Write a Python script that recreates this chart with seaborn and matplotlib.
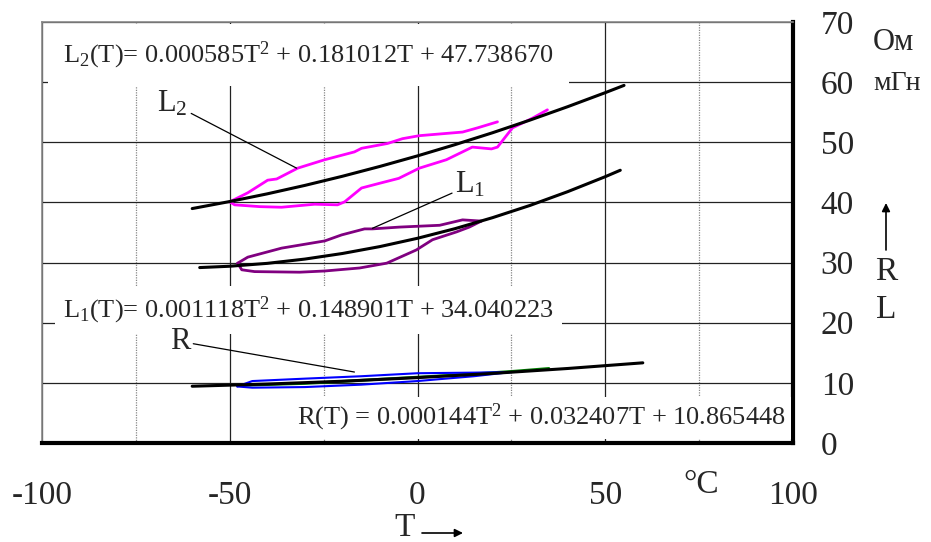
import matplotlib
matplotlib.use('Agg')
from matplotlib import pyplot as plt
import seaborn as sns

l2_up_t = [-50, -45.2, -39.9, -37.5, -31.9, -24.7, -16.8, -14.9, -8, -4, 0.5, 12, 16, 21.3]
l2_up_v = [40.1, 41.6, 43.7, 43.9, 45.7, 47.1, 48.4, 49.0, 49.8, 50.6, 51.1, 51.7, 52.4, 53.4]
l2_dn_t = [-50, -48.7, -42, -36.2, -27.4, -21.3, -19.4, -14.9, -10, -5, 0.5, 7.7, 14.6, 19.7, 21.3, 25.3, 30.6, 34.6]
l2_dn_v = [40.1, 39.6, 39.3, 39.2, 39.7, 39.6, 40.1, 42.4, 43.2, 44.0, 45.7, 47.1, 49.2, 48.9, 49.2, 52.4, 54.0, 55.4]

l1_up_t = [-47.9, -45.2, -36.2, -24.7, -20.2, -14.1, -12, -4.8, 5.9, 12, 17]
l1_up_v = [29.9, 30.9, 32.4, 33.6, 34.6, 35.6, 35.6, 35.9, 36.2, 37.1, 36.9]
l1_dn_t = [-47.9, -46.8, -43.4, -31.4, -24.7, -15.4, -8.2, -0.3, 4, 10.4, 13.8, 17]
l1_dn_v = [29.9, 28.8, 28.5, 28.4, 28.6, 29.1, 29.9, 32.1, 33.8, 35.1, 35.9, 36.9]

r_up_t = [-48, -44, -30, -15, 0, 15, 25]
r_up_v = [9.4, 10.3, 10.7, 11.1, 11.6, 11.7, 11.8]
r_dn_t = [-48, -44, -30, -15, 0, 15, 25]
r_dn_v = [9.4, 9.2, 9.3, 9.7, 10.3, 11.1, 11.8]
r_gr_t = [-46, -30, -10, 10, 25, 35]
r_gr_v = [9.6, 9.9, 10.6, 11.3, 11.9, 12.4]

# fitted curves, read at every 10 degC
l2_fit_t = [-60, -50, -40, -30, -20, -10, 0, 10, 20, 30, 40, 50, 55]
l2_fit_v = [38.98, 40.15, 41.43, 42.83, 44.35, 45.99, 47.74, 49.61, 51.59, 53.70, 55.92, 58.25, 59.46]
l1_fit_t = [-58, -50, -40, -30, -20, -10, 0, 10, 20, 30, 40, 50, 54]
l1_fit_v = [29.17, 29.39, 29.87, 30.58, 31.51, 32.66, 34.04, 35.64, 37.47, 39.51, 41.79, 44.28, 45.35]
r_fit_t = [-60, -40, -20, 0, 20, 40, 60]
r_fit_v = [9.44, 9.80, 10.27, 10.87, 11.57, 12.39, 13.33]

x_ticks = [-100, -50, 0, 50, 100]
y_ticks = [0, 10, 20, 30, 40, 50, 60, 70]

sns.set_style('white')
plt.rcParams['font.family'] = ['Liberation Serif', 'DejaVu Serif']
plt.rcParams['mathtext.fontset'] = 'custom'
plt.rcParams['mathtext.rm'] = 'Liberation Serif'
plt.rcParams['mathtext.it'] = 'Liberation Serif'
plt.rcParams['axes.unicode_minus'] = False

fig = plt.figure(figsize=(9.31, 5.42), dpi=100)
ax = fig.add_axes([42 / 931, 99 / 542, 751 / 931, 421 / 542])

magenta, purple = '#ff00ff', '#800080'
for t, v, c in [(l2_up_t, l2_up_v, magenta), (l2_dn_t, l2_dn_v, magenta),
                (l1_up_t, l1_up_v, purple), (l1_dn_t, l1_dn_v, purple),
                (r_gr_t, r_gr_v, 'green'), (r_up_t, r_up_v, 'blue'), (r_dn_t, r_dn_v, 'blue')]:
    sns.lineplot(x=t, y=v, sort=False, estimator=None, color=c, lw=2 if c != 'blue' else 1.5, ax=ax)
for t, v in [(l2_fit_t, l2_fit_v), (l1_fit_t, l1_fit_v), (r_fit_t, r_fit_v)]:
    sns.lineplot(x=t, y=v, sort=False, estimator=None, color='black', lw=2.2, ax=ax)

ax.set_xlim(-100, 100)
ax.set_ylim(0, 70)
ax.set_xticks(x_ticks)
ax.set_xticks(range(-75, 100, 50), minor=True)
ax.set_yticks(y_ticks)
ax.yaxis.tick_right()
ax.tick_params(which='both', length=0)
ax.tick_params(axis='x', labelsize=24, pad=27)
ax.tick_params(axis='y', labelsize=24, pad=20)
ax.grid(True, which='major', color='#222222', lw=0.9)
ax.grid(True, which='minor', axis='x', color='#888888', lw=0.9, ls=(0, (1, 1)))
ax.set_axisbelow(True)
for s in ['left', 'top']:
    ax.spines[s].set_color('#888888')
    ax.spines[s].set_linewidth(1.2)
for s in ['right', 'bottom']:
    ax.spines[s].set_color('black')
    ax.spines[s].set_linewidth(3)

ax.text(-94.4, 64.5, r'L$_2$(T)= 0.000585T$^2$ + 0.181012T + 47.738670',
        fontsize=19, va='center', ha='left', zorder=4,
        bbox=dict(facecolor='white', edgecolor='none', pad=11))
ax.text(-94.4, 22.1, r'L$_1$(T)= 0.001118T$^2$ + 0.148901T + 34.040223',
        fontsize=19, va='center', ha='left', zorder=4,
        bbox=dict(facecolor='white', edgecolor='none', pad=6))
ax.text(98, 4.2, r'R(T) = 0.000144T$^2$ + 0.032407T + 10.865448',
        fontsize=19, va='center', ha='right', zorder=4,
        bbox=dict(facecolor='white', edgecolor='none', pad=4))

lead = dict(arrowstyle='-', color='black', lw=0.9, shrinkA=0, shrinkB=0)
ax.annotate(r'L$_2$', xy=(-32.2, 45.7), xytext=(-65.2, 56.4), fontsize=22,
            ha='center', va='center', arrowprops=lead, zorder=5)
ax.annotate(r'L$_1$', xy=(-12, 35.7), xytext=(14.1, 42.9), fontsize=22,
            ha='center', va='center', arrowprops=lead, zorder=5)
ax.annotate('R', xy=(-16.8, 11.8), xytext=(-63.3, 16.9), fontsize=22,
            ha='center', va='center', arrowprops=lead, zorder=5)

fig.text(873 / 931, 1 - 42 / 542, 'Ом', fontsize=22, va='center', ha='left')
fig.text(873 / 931, 1 - 83 / 542, 'мГн', fontsize=20, va='center', ha='left')
fig.text(886 / 931, 1 - 272 / 542, 'R', fontsize=24, va='center', ha='center')
fig.text(886 / 931, 1 - 310 / 542, 'L', fontsize=24, va='center', ha='center')
fig.text(701 / 931, 1 - 485 / 542, '°C', fontsize=24, va='center', ha='center')
fig.text(405 / 931, 1 - 528 / 542, 'T', fontsize=24, va='center', ha='center')
arr = dict(arrowstyle='-|>', color='black', lw=1.2, mutation_scale=12, shrinkA=0, shrinkB=0)
ax.annotate('', xy=(886 / 931, 1 - 203 / 542), xytext=(886 / 931, 1 - 250 / 542),
            xycoords='figure fraction', textcoords='figure fraction', arrowprops=arr)
ax.annotate('', xy=(463 / 931, 1 - 533 / 542), xytext=(422 / 931, 1 - 533 / 542),
            xycoords='figure fraction', textcoords='figure fraction', arrowprops=arr)

plt.savefig('out.png', dpi=100)
